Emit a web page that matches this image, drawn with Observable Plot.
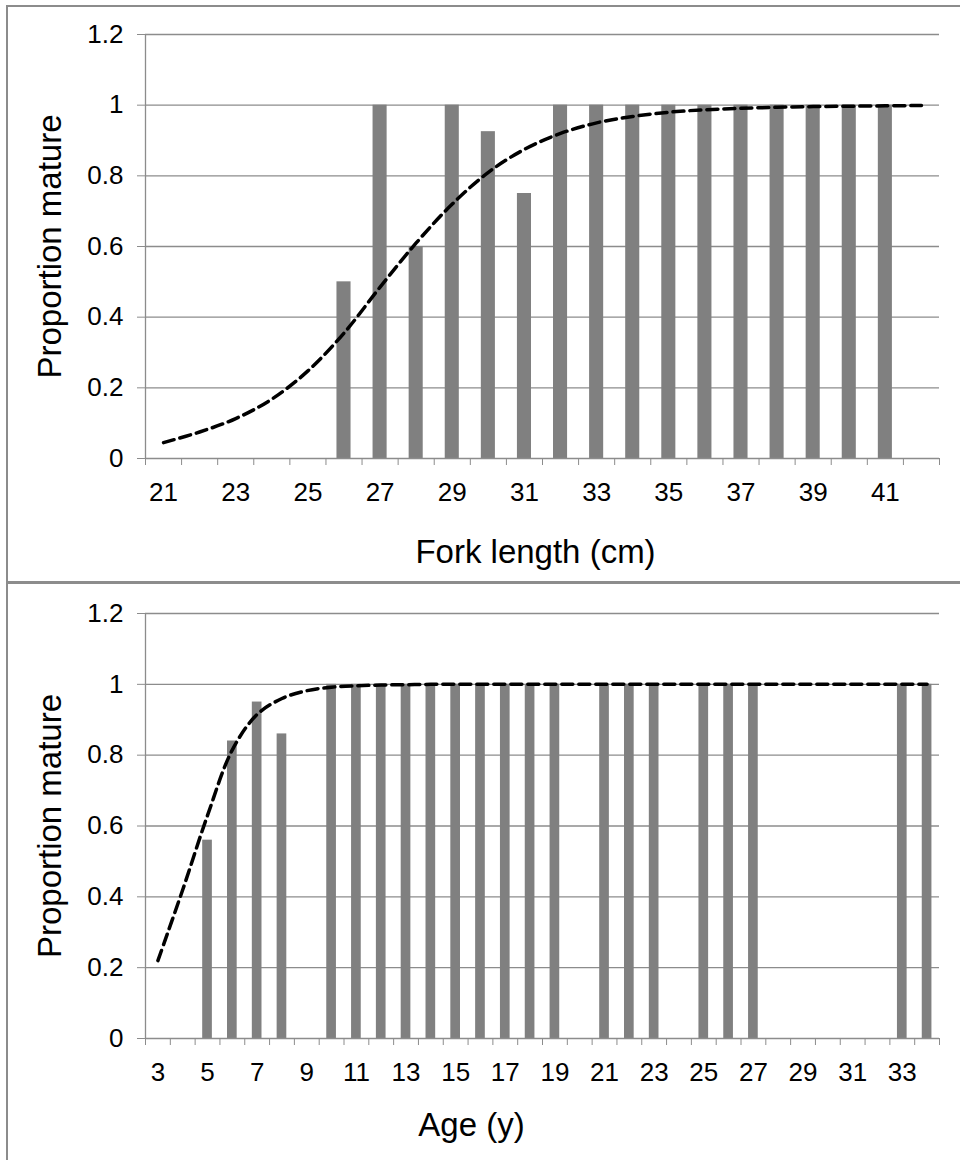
<!DOCTYPE html>
<html>
<head>
<meta charset="utf-8">
<script src="https://cdn.jsdelivr.net/npm/d3@7"></script>
<script src="https://cdn.jsdelivr.net/npm/@observablehq/plot@0.6"></script>
<style>
  html, body { margin: 0; padding: 0; background: #fff; }
  #wrap { position: relative; width: 960px; height: 1160px; overflow: hidden; background: #fff; }
  .panel { position: absolute; left: 0; width: 960px; }
  .frame { position: absolute; background: #8c8c8c; }
</style>
</head>
<body>
<div id="wrap">
  <div id="top" class="panel" style="top:0px;height:583px"></div>
  <div id="bottom" class="panel" style="top:583px;height:577px"></div>
  <div class="frame" style="left:7px;top:5px;width:953px;height:1.5px"></div>
  <div class="frame" style="left:6px;top:5px;width:2px;height:1155px"></div>
  <div class="frame" style="left:7px;top:581px;width:953px;height:3px"></div>
</div>
<script>
// ---- Top panel: maturity by fork length ----
const lengthCats = [21,22,23,24,25,26,27,28,29,30,31,32,33,34,35,36,37,38,39,40,41,42];
const lengthObs  = [null,null,null,null,null,0.5,1,0.6,1,0.925,0.75,1,1,1,1,1,1,1,1,1,1,null];
const lengthFit  = [0.045,0.075,0.113,0.168,0.248,0.355,0.485,0.61,0.72,0.81,0.875,0.92,0.95,0.968,0.98,0.987,0.991,0.994,0.996,0.997,0.998,0.999];
const lengthTickLabels = [21,23,25,27,29,31,33,35,37,39,41];

// ---- Bottom panel: maturity by age ----
const ageCats = [3,4,5,6,7,8,9,10,11,12,13,14,15,16,17,18,19,20,21,22,23,24,25,26,27,28,29,30,31,32,33,34];
const ageObs  = [null,null,0.56,0.84,0.95,0.86,null,1,1,1,1,1,1,1,1,1,1,null,1,1,1,null,1,1,1,null,null,null,null,null,1,1];
const ageFit  = [0.22,0.42,0.63,0.815,0.915,0.96,0.982,0.992,0.996,0.998,0.999,1,1,1,1,1,1,1,1,1,1,1,1,1,1,1,1,1,1,1,1,1];
const ageTickLabels = [3,5,7,9,11,13,15,17,19,21,23,25,27,29,31,33];

const yTicks = [0, 0.2, 0.4, 0.6, 0.8, 1, 1.2];
const yTitle = "Proportion mature";

const GRAY = "#8c8c8c";
const BAR = "#808080";

function panel({cats, obs, fit, tickLabels, xTitle, height, marginTop, marginBottom, titleDx, titleDy}) {
  const rows = cats.map((c, i) => ({c, obs: obs[i], fit: fit[i]}));
  const bars = rows.filter(d => d.obs != null);
  const lo = cats[0] - 0.5, hi = cats[cats.length - 1] + 0.5;
  const boundaries = cats.map(c => c - 0.5).concat([hi]);
  const half = 0.195;
  return Plot.plot({
    width: 960,
    height,
    marginLeft: 145,
    marginRight: 21,
    marginTop,
    marginBottom,
    style: {fontFamily: "'Liberation Sans', Arial, sans-serif", fontSize: "26px", color: "#000", background: "transparent"},
    x: {type: "linear", domain: [lo, hi], axis: null},
    y: {domain: [0, 1.2], axis: null},
    marks: [
      Plot.gridY(yTicks.filter(v => v > 0), {stroke: GRAY, strokeOpacity: 1, strokeWidth: 1.3}),
      Plot.rectY(bars, {x1: d => d.c - half, x2: d => d.c + half, y1: 0, y2: "obs", fill: BAR}),
      Plot.ruleY([0], {stroke: GRAY, strokeWidth: 1.3}),
      Plot.ruleX([lo], {y1: 0, y2: 1.2, stroke: GRAY, strokeWidth: 1.3}),
      Plot.axisY({ticks: yTicks, tickSize: 8, tickFormat: () => "", stroke: GRAY, label: null}),
      Plot.text(yTicks, {y: d => d, frameAnchor: "left", dx: -22, textAnchor: "end", lineAnchor: "middle",
        text: d => String(Math.round(d * 10) / 10), fontSize: 26, fill: "#000"}),
      Plot.axisX({ticks: boundaries, tickSize: 7, tickFormat: () => "", stroke: GRAY, label: null}),
      Plot.text(tickLabels, {x: d => d, frameAnchor: "bottom", dy: 24, lineAnchor: "top", textAnchor: "middle",
        text: d => String(d), fontSize: 26, fill: "#000"}),
      Plot.line(rows, {x: "c", y: "fit", stroke: "#000", strokeWidth: 3.5, strokeDasharray: "11,6", curve: "catmull-rom"}),
      Plot.text([xTitle], {frameAnchor: "bottom", text: d => d, dx: titleDx, dy: titleDy, fontSize: 33, fill: "#000", textAnchor: "middle", lineAnchor: "bottom"}),
      Plot.text([yTitle], {frameAnchor: "left", text: d => d, dx: -95, rotate: -90, fontSize: 33, fill: "#000", textAnchor: "middle", lineAnchor: "middle"})
    ]
  });
}

document.getElementById("top").appendChild(panel({
  cats: lengthCats, obs: lengthObs, fit: lengthFit, tickLabels: lengthTickLabels,
  xTitle: "Fork length (cm)", height: 583, marginTop: 34, marginBottom: 125, titleDx: -7, titleDy: 104
}));
document.getElementById("bottom").appendChild(panel({
  cats: ageCats, obs: ageObs, fit: ageFit, tickLabels: ageTickLabels,
  xTitle: "Age (y)", height: 577, marginTop: 30, marginBottom: 122, titleDx: -71, titleDy: 97
}));
</script>
</body>
</html>
